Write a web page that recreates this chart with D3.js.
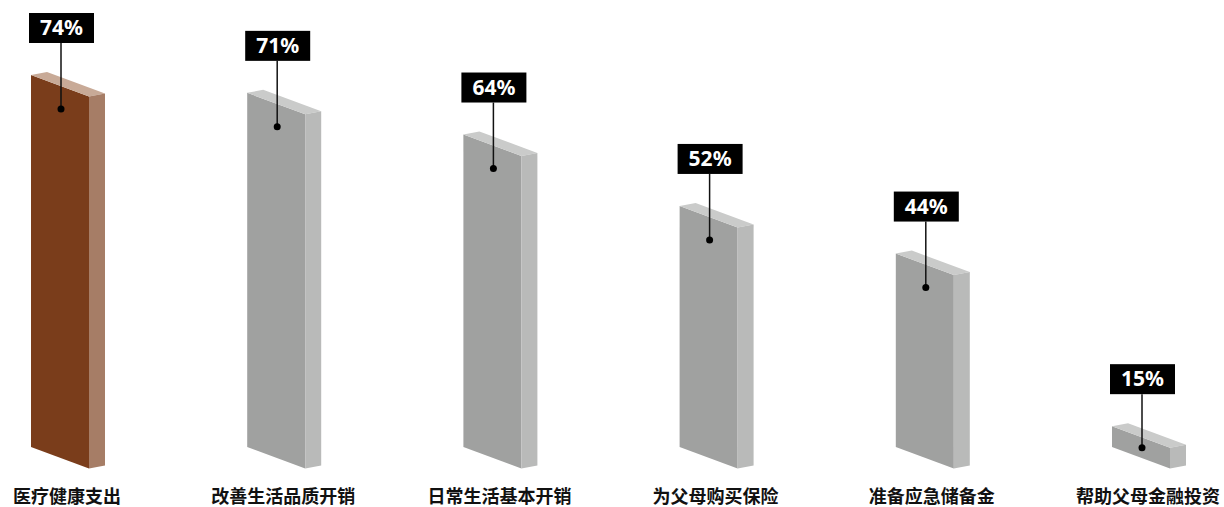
<!DOCTYPE html>
<html>
<head>
<meta charset="utf-8">
<script src="https://cdn.jsdelivr.net/npm/d3@7"></script>
<style>
  html, body { margin: 0; padding: 0; background: #fff; overflow: hidden; }
  svg { display: block; }
</style>
</head>
<body>
<svg id="chart" width="1224" height="507"></svg>
<script>
const CATEGORIES = ['医疗健康支出', '改善生活品质开销', '日常生活基本开销', '为父母购买保险', '准备应急储备金', '帮助父母金融投资'];
const VALUES = [74, 71, 64, 52, 44, 15];
const LABELS = ['74%', '71%', '64%', '52%', '44%', '15%'];

const BASE = 447;      // y of the front bottom-left corner
const FRONT_W = 58;    // front face width
const SKEW = 21.5;     // drop of the front face across its width
const DEPTH_X = 16, DEPTH_Y = -3;

const HIGHLIGHT = { front: '#7a3d1b', side: '#a67d66', top: '#c8aa97' };
const NORMAL = { front: '#a0a1a0', side: '#b9bab9', top: '#cacbca' };

function whenDocumentLoaded(action) {
  if (document.readyState === 'loading') {
    document.addEventListener('DOMContentLoaded', action);
  } else {
    action();
  }
}

function draw() {
  const svg = d3.select('#chart');
  const data = CATEGORIES.map((c, i) => ({ name: c, value: VALUES[i], label: LABELS[i], i: i }));

  const x = d3.scalePoint()
    .domain(CATEGORIES)
    .range([31, 1112]);

  const h = d3.scaleLinear()
    .domain([11.5, 74])
    .range([0, 372]);

  const line = d3.line();
  const top = d => BASE - h(d.value);
  // dot sits 34px under the top, or in the middle of the face for short bars
  const dotY = d => top(d) + Math.min(34, h(d.value) / 2 + SKEW * 30 / FRONT_W);

  const bars = svg.append('g')
    .selectAll('g')
    .data(data)
    .enter().append('g');

  // front face
  bars.append('path')
    .attr('d', d => {
      const x0 = x(d.name), t = top(d);
      return line([[x0, t], [x0 + FRONT_W, t + SKEW], [x0 + FRONT_W, BASE + SKEW], [x0, BASE]]) + 'Z';
    })
    .attr('fill', d => (d.i === 0 ? HIGHLIGHT : NORMAL).front);

  // top face
  bars.append('path')
    .attr('d', d => {
      const x0 = x(d.name), t = top(d);
      return line([[x0, t], [x0 + DEPTH_X, t + DEPTH_Y], [x0 + FRONT_W + DEPTH_X, t + SKEW + DEPTH_Y], [x0 + FRONT_W, t + SKEW]]) + 'Z';
    })
    .attr('fill', d => (d.i === 0 ? HIGHLIGHT : NORMAL).top);

  // side face
  bars.append('path')
    .attr('d', d => {
      const x0 = x(d.name) + FRONT_W, t = top(d) + SKEW;
      return line([[x0, t], [x0 + DEPTH_X, t + DEPTH_Y], [x0 + DEPTH_X, BASE + SKEW + DEPTH_Y], [x0, BASE + SKEW]]) + 'Z';
    })
    .attr('fill', d => (d.i === 0 ? HIGHLIGHT : NORMAL).side);

  // leader line + dot
  bars.append('line')
    .attr('x1', d => x(d.name) + 30)
    .attr('x2', d => x(d.name) + 30)
    .attr('y1', d => top(d) - 32)
    .attr('y2', dotY)
    .attr('stroke', '#111')
    .attr('stroke-width', 1.5);

  bars.append('circle')
    .attr('cx', d => x(d.name) + 30)
    .attr('cy', dotY)
    .attr('r', 3.5)
    .attr('fill', '#000');

  // value boxes
  bars.append('rect')
    .attr('x', d => x(d.name) - 2)
    .attr('y', d => top(d) - 62)
    .attr('width', 65)
    .attr('height', 30)
    .attr('fill', '#000');

  bars.append('text')
    .text(d => d.label)
    .attr('x', d => x(d.name) + 30.5)
    .attr('y', d => top(d) - 40)
    .attr('text-anchor', 'middle')
    .attr('fill', '#fff')
    .style('font-family', '"Noto Sans", "Open Sans", sans-serif')
    .style('font-weight', 'bold')
    .style('font-size', '21px');

  // category labels
  svg.append('g')
    .selectAll('text')
    .data(data)
    .enter().append('text')
      .text(d => d.name)
      .attr('x', d => x(d.name) + (FRONT_W + DEPTH_X) / 2 - 1)
      .attr('y', 503)
      .attr('text-anchor', 'middle')
      .attr('fill', '#111')
      .style('font-family', '"Noto Sans CJK SC", sans-serif')
      .style('font-weight', 'bold')
      .style('font-size', '18px');
}

whenDocumentLoaded(draw);
</script>
</body>
</html>
